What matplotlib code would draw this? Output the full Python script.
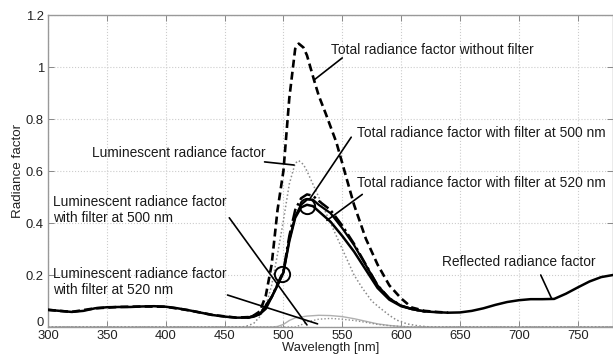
import matplotlib
matplotlib.use("Agg")
import matplotlib.pyplot as plt
import matplotlib.transforms as mtransforms

plt.rcParams['font.family'] = ['Liberation Sans', 'DejaVu Sans']

# ---------------- data ----------------
refl_wl = [300, 310, 320, 330, 340, 350, 360, 370, 380, 390, 400, 410, 420, 430, 440, 450,
           460, 470, 475, 480, 485, 490, 495, 500, 505, 510, 515, 520, 525, 530, 540, 550,
           560, 570, 580, 590, 600, 610, 620, 630, 640, 650, 660, 670, 680, 690, 700, 710,
           720, 730, 740, 750, 760, 770, 780]
refl_val = [0.066, 0.062, 0.058, 0.062, 0.072, 0.076, 0.077, 0.077, 0.079, 0.080, 0.078, 0.072,
            0.064, 0.055, 0.046, 0.040, 0.036, 0.036, 0.040, 0.050, 0.070, 0.115, 0.160, 0.210,
            0.330, 0.420, 0.460, 0.470, 0.465, 0.445, 0.405, 0.350, 0.290, 0.220, 0.150, 0.105,
            0.080, 0.068, 0.060, 0.057, 0.055, 0.056, 0.062, 0.072, 0.085, 0.096, 0.103, 0.107,
            0.107, 0.108, 0.128, 0.152, 0.175, 0.192, 0.200]

tot_wl = [300, 320, 340, 360, 380, 400, 420, 440, 460, 470, 475, 480, 485, 490, 495, 500, 505,
          510, 513, 517, 520, 526, 530, 536, 545, 550, 560, 570, 575, 580, 590, 596, 600, 609,
          620, 630, 640]
tot_val = [0.066, 0.058, 0.072, 0.077, 0.079, 0.078, 0.064, 0.046, 0.036, 0.038, 0.045, 0.060,
           0.120, 0.240, 0.450, 0.600, 0.880, 1.070, 1.090, 1.075, 1.045, 0.950, 0.890, 0.820,
           0.710, 0.630, 0.470, 0.340, 0.290, 0.240, 0.160, 0.130, 0.110, 0.075, 0.062, 0.058,
           0.055]

lum_wl = [300, 465, 470, 475, 480, 485, 490, 495, 500, 505, 510, 513, 517, 520, 525, 530, 540,
          550, 560, 567, 575, 581, 590, 596, 605, 615, 625, 780]
lum_val = [0.0, 0.0, 0.005, 0.015, 0.040, 0.080, 0.160, 0.280, 0.410, 0.550, 0.630, 0.640,
           0.625, 0.600, 0.550, 0.500, 0.400, 0.300, 0.200, 0.150, 0.100, 0.077, 0.045, 0.027,
           0.012, 0.004, 0.0, 0.0]

lum500_wl = [300, 490, 495, 500, 505, 510, 520, 530, 540, 550, 560, 570, 580, 590, 600, 610, 780]
lum500_val = [0.0, 0.0, 0.002, 0.010, 0.025, 0.035, 0.042, 0.045, 0.044, 0.040, 0.032, 0.022,
              0.012, 0.006, 0.002, 0.0, 0.0]

lum520_wl = [300, 510, 515, 520, 530, 540, 550, 560, 570, 580, 590, 600, 610, 780]
lum520_val = [0.0, 0.0, 0.008, 0.020, 0.030, 0.033, 0.030, 0.025, 0.018, 0.010, 0.005, 0.002,
              0.0, 0.0]

tf_wl = [470, 480, 490, 500, 505, 510, 515, 520, 525, 530, 540, 550, 560, 570, 580, 590, 600,
         610, 620]
tf500_val = [0.036, 0.050, 0.115, 0.215, 0.350, 0.450, 0.495, 0.510, 0.505, 0.485, 0.450,
             0.390, 0.320, 0.240, 0.160, 0.110, 0.082, 0.068, 0.060]
tf520_val = [0.036, 0.050, 0.115, 0.210, 0.335, 0.425, 0.470, 0.490, 0.490, 0.470, 0.438,
             0.380, 0.315, 0.238, 0.160, 0.110, 0.082, 0.068, 0.060]

circle_wl = [499, 520]
circle_val = [0.205, 0.465]

x_ticks = [300, 350, 400, 450, 500, 550, 600, 650, 700, 750]
y_ticks = [0, 0.2, 0.4, 0.6, 0.8, 1.0, 1.2]
y_tick_labels = ['0', '0.2', '0.4', '0.6', '0.8', '1', '1.2']

# ---------------- figure ----------------
fig = plt.figure(figsize=(6.13, 3.60), dpi=100)
ax = fig.add_axes([48 / 613, 33 / 360, 565 / 613, 312 / 360])

ax.plot(lum500_wl, lum500_val, color='#b0b0b0', lw=1.0, zorder=2)
ax.plot(lum520_wl, lum520_val, color='#909090', lw=1.0, ls=(0, (1, 1.5)), zorder=2)
ax.plot(lum_wl, lum_val, color='#8a8a8a', lw=1.1, ls=(0, (1, 1.5)), zorder=2)
ax.plot(tf_wl, tf500_val, color='black', lw=1.8, ls=(0, (5, 1.5, 1, 1.5)), zorder=3)
ax.plot(tf_wl, tf520_val, color='black', lw=1.6, zorder=3)
ax.plot(refl_wl, refl_val, color='black', lw=1.8, zorder=4)
ax.plot(tot_wl, tot_val, color='black', lw=1.9, ls=(0, (3, 1.6)), zorder=4)
ax.plot(circle_wl, circle_val, ls='none', marker='o', ms=11, mfc='none', mec='black',
        mew=1.4, zorder=5)

ax.set_xlim(300, 780)
ax.set_ylim(0, 1.2)
ax.set_xticks(x_ticks)
ax.set_yticks(y_ticks)
ax.set_yticklabels(y_tick_labels)
ax.tick_params(direction='in', top=True, right=True, labelsize=9.4, colors='#222222',
               length=4, width=0.7)
ax.tick_params(axis='x', pad=2)
ax.tick_params(axis='y', pad=3)
ax.tick_params(axis='both', color='#888888')
for tl in ax.get_xticklabels() + ax.get_yticklabels():
    tl.set_color('#222222')
# nudge the "0" y tick label slightly up so it doesn't collide with "300"
zero_lbl = ax.yaxis.get_major_ticks()[0].label1
zero_lbl.set_transform(zero_lbl.get_transform() +
                       mtransforms.ScaledTranslation(0, 4 / 72, fig.dpi_scale_trans))
for s in ax.spines.values():
    s.set_color('#999999')
    s.set_linewidth(1.0)
ax.grid(True, ls=':', color='#cccccc', lw=0.8)
ax.set_axisbelow(True)

ax.set_xlabel('Wavelength [nm]', fontsize=9.4, color='#222222', labelpad=0)
ax.set_ylabel('Radiance factor', fontsize=9.6, color='#222222', labelpad=1)

fs = 9.9
tc = '#1a1a1a'
ax.text(540.7, 1.065, 'Total radiance factor without filter', fontsize=fs, color=tc, va='center')
ax.text(562.7, 0.746, 'Total radiance factor with filter at 500 nm', fontsize=fs, color=tc, va='center')
ax.text(562.7, 0.554, 'Total radiance factor with filter at 520 nm', fontsize=fs, color=tc, va='center')
ax.text(337, 0.670, 'Luminescent radiance factor', fontsize=fs, color=tc, va='center')
ax.text(304, 0.450, 'Luminescent radiance factor\nwith filter at 500 nm', fontsize=fs, color=tc,
        va='center', linespacing=1.1)
ax.text(304, 0.173, 'Luminescent radiance factor\nwith filter at 520 nm', fontsize=fs, color=tc,
        va='center', linespacing=1.1)
ax.text(634.7, 0.250, 'Reflected radiance factor', fontsize=fs, color=tc, va='center')

leaders = [((550, 1.035), (526, 0.95)),
           ((557.6, 0.73), (522, 0.49)),
           ((567, 0.51), (537, 0.41)),
           ((484, 0.635), (509, 0.623)),
           ((454, 0.42), (520, 0.008)),
           ((452.5, 0.123), (529, 0.012)),
           ((718.6, 0.20), (728, 0.108))]
for start, end in leaders:
    ax.annotate('', xy=end, xytext=start,
                arrowprops=dict(arrowstyle='-', lw=1.2, color='black', shrinkA=0, shrinkB=0),
                zorder=6)

fig.savefig('out.png', dpi=100)
